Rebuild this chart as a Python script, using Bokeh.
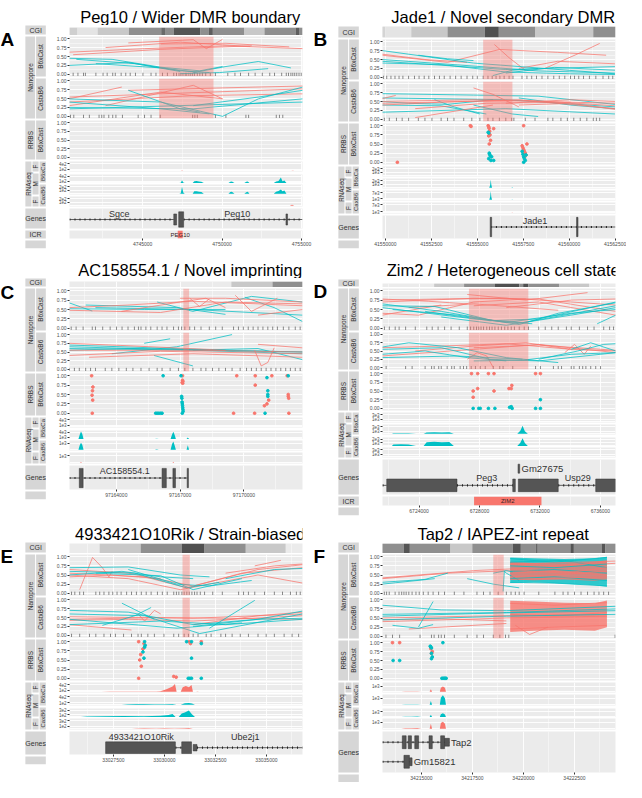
import numpy as np
from bokeh.plotting import figure
from bokeh.layouts import row, column
from bokeh.models import Range1d, FixedTicker, BasicTickFormatter, NumeralTickFormatter, BoxAnnotation
from bokeh.core.properties import value
from bokeh.embed import file_html
from bokeh.resources import INLINE

RED = "#F8766D"
TEAL = "#00BFC4"
COLORS = {"r": RED, "t": TEAL}
FONT = "Liberation Sans"
RNA_COLORS = [RED, TEAL, TEAL, RED]

# ======================= DATA (positions in kb) =======================
# ---------- Panel A ----------
A_TITLE = "Peg10 / Wider DMR boundary"
A_XLIM_KB = [4740.40, 4755.06]
A_XTICKS = [4745000, 4750000, 4755000]
A_XMINOR = [4742500, 4747500, 4752500]
A_CGI_START = [4740.40, 4740.89, 4742.18, 4744.14, 4746.17, 4746.41, 4746.96, 4748.62, 4749.17, 4749.42, 4751.38, 4752.67, 4754.63, 4754.88]
A_CGI_END = [4740.89, 4742.18, 4744.14, 4746.17, 4746.41, 4746.96, 4748.62, 4749.17, 4749.42, 4751.38, 4752.67, 4754.63, 4754.88, 4755.06]
A_CGI_SHADE = ["#CFCFCF", "#E4E4E4", "#C8C8C8", "#8F8F8F", "#6A6A6A", "#8F8F8F", "#555555", "#8F8F8F", "#5E5E5E", "#8F8F8F", "#C8C8C8", "#8F8F8F", "#5E5E5E", "#8F8F8F"]
A_DMR_KB = [4746.04, 4749.46]
A_N1_READS = [
    ("r", [4740.38, 4745.12, 4750.24, 4755.08], [0.62, 0.72, 0.80, 0.72]),
    ("r", [4740.63, 4746.15, 4751.87], [0.55, 0.70, 0.80]),
    ("r", [4744.10, 4748.19, 4749.01, 4750.03], [0.88, 0.97, 0.72, 0.98]),
    ("r", [4746.15, 4750.24, 4754.22], [0.85, 0.87, 0.77]),
    ("r", [4742.67, 4747.37, 4751.77], [0.75, 0.90, 0.78]),
    ("t", [4740.38, 4743.08, 4746.15, 4748.60, 4750.03], [0.45, 0.42, 0.20, 0.10, 0.22]),
    ("t", [4740.38, 4744.10, 4747.37, 4749.21], [0.25, 0.33, 0.10, 0.05]),
    ("t", [4740.83, 4744.51, 4747.37], [0.42, 0.30, 0.08]),
    ("t", [4748.19, 4750.24, 4752.28, 4754.33], [0.05, 0.22, 0.36, 0.18]),
    ("t", [4747.37, 4749.83, 4752.90], [0.02, 0.05, 0.16]),
    ("t", [4742.06, 4746.15, 4748.40], [0.30, 0.18, 0.06]),
]
A_N1_CPG = [4740.63, 4740.93, 4741.28, 4741.40, 4742.06, 4742.51, 4742.77, 4743.12, 4743.28, 4743.65, 4743.94, 4744.22, 4744.55, 4745.02, 4745.53, 4745.84, 4746.25, 4746.56, 4746.96, 4747.13, 4747.29, 4747.41, 4747.54, 4747.68, 4747.78, 4747.91, 4748.03, 4748.15, 4748.27, 4748.44, 4748.60, 4748.76, 4748.97, 4749.26, 4749.58, 4750.36, 4750.81, 4751.16, 4751.67, 4752.08, 4752.53, 4753.00, 4753.30, 4753.75, 4754.04, 4754.18, 4754.33, 4754.45, 4754.57, 4754.70, 4754.84, 4754.98]
A_N2_READS = [
    ("r", [4740.38, 4743.69], [0.49, 0.82]),
    ("r", [4740.38, 4746.15, 4750.03], [0.30, 0.68, 0.49]),
    ("r", [4742.67, 4748.19, 4750.03], [0.30, 0.87, 0.49]),
    ("r", [4740.38, 4747.37, 4755.08], [0.54, 0.65, 0.77]),
    ("r", [4744.10, 4750.24, 4755.08], [0.73, 0.80, 0.85]),
    ("r", [4740.38, 4748.19, 4755.08], [0.40, 0.58, 0.63]),
    ("t", [4740.38, 4746.15, 4750.03], [0.49, 0.40, 0.0]),
    ("t", [4740.38, 4748.19, 4755.08], [0.25, 0.21, 0.49]),
    ("t", [4740.38, 4746.15, 4749.21], [0.40, 0.21, 0.07]),
    ("t", [4744.10, 4747.37, 4748.60], [0.73, 0.21, 0.12]),
    ("t", [4750.03, 4752.28, 4755.08], [0.0, 0.49, 0.82]),
    ("t", [4748.19, 4752.28, 4755.08], [0.30, 0.54, 0.73]),
    ("t", [4740.38, 4755.08], [0.21, 0.40]),
]
A_N2_CPG = [4740.46, 4740.67, 4741.28, 4741.65, 4742.26, 4742.43, 4742.57, 4742.87, 4743.12, 4743.32, 4743.73, 4744.72, 4745.12, 4745.53, 4746.11, 4748.15, 4748.29, 4748.44, 4749.58, 4750.24, 4751.50, 4751.67, 4753.41, 4753.61, 4753.82]
A_RRBS_RED_X, A_RRBS_RED_Y, A_RRBS_TEAL_X, A_RRBS_TEAL_Y = [], [], [], []
A_RNA_X = [
    [4747.42, 4747.48, 4747.54, 4754.35, 4754.45, 4754.55],
    [4747.30, 4747.40, 4747.48, 4747.56, 4747.65, 4748.15, 4748.25, 4748.40, 4748.55, 4748.70, 4748.85, 4750.40, 4750.52, 4750.62, 4750.78, 4751.40, 4751.52, 4751.62, 4751.72, 4753.25, 4753.40, 4753.55, 4753.70, 4753.80, 4753.92, 4754.05],
    [4747.30, 4747.40, 4747.48, 4747.56, 4747.65, 4748.15, 4748.25, 4748.40, 4748.55, 4748.70, 4748.85, 4750.40, 4750.52, 4750.62, 4750.78, 4751.40, 4751.52, 4751.62, 4751.72, 4753.25, 4753.40, 4753.55, 4753.70, 4753.80, 4753.92, 4754.05],
    [4754.25, 4754.40, 4754.55],
]
A_RNA_Y = [
    [0, 30, 0, 0, 25, 0],
    [0, 10, 170, 30, 0, 0, 100, 120, 90, 70, 0, 0, 70, 80, 0, 0, 70, 85, 0, 0, 90, 120, 330, 100, 150, 0],
    [0, 15, 200, 40, 0, 0, 70, 75, 60, 50, 0, 0, 50, 55, 0, 0, 45, 60, 0, 0, 60, 80, 120, 70, 90, 0],
    [0, 30, 0],
]
A_RNA_TICKS = [[100, 400], [100, 400], [100, 200], [100, 200]]
A_RNA_LABELS = [["1e2", "4e2"], ["1e2", "4e2"], ["1e2", "2e2"], ["1e2", "2e2"]]
A_RNA_YMAX = [520, 520, 260, 260]
A_EXONS = [(4746.96, 4747.14, 1, "utr"), (4747.27, 4747.58, 1, "cds"), (4754.02, 4754.12, 1, "utr")]
A_INTRONS = [(4740.40, 4746.96, 1), (4747.58, 4755.06, 1)]
A_GENE_LABELS = [("Sgce", 4743.53, 1, "above"), ("Peg10", 4750.95, 1, "above")]
A_ICR = [(4747.21, 4747.52, "PEG10")]

# ---------- Panel B ----------
B_TITLE = "Jade1 / Novel secondary DMR"
B_XLIM_KB = [41549.84, 41562.52]
B_XTICKS = [41550000, 41552500, 41555000, 41557500, 41560000, 41562500]
B_XMINOR = [41551250, 41553750, 41556250, 41558750, 41561250]
B_CGI_START = [41549.82, 41550.00, 41551.41, 41553.38, 41555.41, 41556.17, 41558.14, 41561.31]
B_CGI_END = [41550.00, 41551.41, 41553.38, 41555.41, 41556.17, 41558.14, 41561.31, 41562.52]
B_CGI_SHADE = ["#D4D4D4", "#E4E4E4", "#C8C8C8", "#8F8F8F", "#505050", "#8F8F8F", "#C8C8C8", "#8F8F8F"]
B_DMR_KB = [41555.32, 41556.91]
B_N1_READS = [
    ("r", [41549.82, 41553.38, 41556.20, 41559.37, 41562.01], [0.62, 0.42, 0.78, 0.70, 0.62]),
    ("r", [41555.93, 41556.73, 41557.61], [0.92, 0.55, 0.20]),
    ("r", [41557.26, 41559.37, 41562.49], [0.25, 0.45, 0.38]),
    ("r", [41558.67, 41560.43, 41561.66], [0.25, 0.65, 0.95]),
    ("r", [41549.82, 41552.15, 41554.44], [0.65, 0.50, 0.42]),
    ("t", [41549.82, 41554.79, 41562.49], [0.75, 0.40, 0.10]),
    ("t", [41549.82, 41553.91, 41558.31, 41562.49], [0.50, 0.35, 0.18, 0.12]),
    ("t", [41549.82, 41556.55, 41562.49], [0.45, 0.22, 0.30]),
    ("t", [41551.79, 41553.38, 41554.79], [0.62, 0.52, 0.47]),
    ("t", [41555.85, 41556.90, 41558.31], [0.05, 0.20, 0.25]),
    ("t", [41556.55, 41559.19, 41562.49], [0.12, 0.28, 0.20]),
    ("t", [41549.82, 41553.03, 41556.55, 41560.07, 41562.49], [0.40, 0.36, 0.15, 0.10, 0.08]),
]
B_N1_CPG = [41549.89, 41550.07, 41550.30, 41550.52, 41550.74, 41550.95, 41551.26, 41551.58, 41551.83, 41552.11, 41552.36, 41552.67, 41552.94, 41553.20, 41553.52, 41553.82, 41554.12, 41554.44, 41554.75, 41555.00, 41555.32, 41555.58, 41555.81, 41556.02, 41556.23, 41556.46, 41556.73, 41556.94, 41557.43, 41557.70, 41557.96, 41558.22, 41558.52, 41558.84, 41559.16, 41559.46, 41559.76, 41560.07, 41560.29, 41560.52, 41560.78, 41561.10, 41561.45, 41561.84, 41562.15, 41562.37]
B_N2_READS = [
    ("t", [41549.82, 41554.79, 41558.31, 41562.49], [0.72, 0.68, 0.65, 0.42]),
    ("t", [41549.82, 41556.55, 41562.49], [0.60, 0.55, 0.35]),
    ("t", [41549.82, 41553.03, 41555.49], [0.40, 0.38, 0.15]),
    ("t", [41549.82, 41556.55, 41562.49], [0.20, 0.30, 0.15]),
    ("t", [41552.67, 41553.73, 41555.14], [0.55, 0.35, 0.15]),
    ("t", [41554.79, 41556.90, 41558.31], [0.40, 0.15, 0.08]),
    ("t", [41557.26, 41560.07, 41562.49], [0.60, 0.40, 0.30]),
    ("t", [41549.82, 41551.26, 41553.38, 41555.85], [0.50, 0.45, 0.42, 0.55]),
    ("r", [41549.82, 41554.79, 41562.49], [0.50, 0.55, 0.45]),
    ("r", [41549.82, 41553.91, 41558.31, 41562.49], [0.45, 0.50, 0.52, 0.38]),
    ("r", [41549.82, 41553.03, 41557.26, 41562.49], [0.40, 0.48, 0.55, 0.30]),
    ("r", [41551.62, 41555.49, 41560.07], [0.30, 0.45, 0.48]),
    ("r", [41554.79, 41555.85, 41557.26], [0.88, 0.70, 0.35]),
    ("r", [41551.62, 41555.85], [0.05, 0.40]),
    ("r", [41549.82, 41550.56], [0.58, 0.67]),
    ("r", [41556.55, 41560.07, 41562.49], [0.45, 0.55, 0.50]),
    ("r", [41557.26, 41560.07, 41562.49], [0.40, 0.45, 0.28]),
]
B_N2_CPG = [41549.94, 41550.21, 41550.60, 41550.91, 41551.26, 41551.79, 41552.15, 41552.53, 41553.03, 41553.38, 41553.73, 41554.26, 41554.70, 41555.14, 41555.58, 41555.85, 41556.20, 41556.55, 41556.87, 41556.99, 41557.61, 41558.14, 41558.84, 41559.11, 41559.55, 41559.90, 41560.25, 41560.60, 41560.96, 41561.31, 41561.48, 41561.66]
B_RRBS_RED_X = [41550.65, 41554.62, 41554.66, 41555.59, 41555.62, 41555.64, 41555.67, 41555.69, 41555.62, 41555.72, 41555.65, 41555.89, 41557.52, 41557.44, 41557.48, 41557.52, 41557.56, 41557.61, 41557.65, 41557.58, 41557.70]
B_RRBS_RED_Y = [0.0, 1.0, 0.98, 1.0, 0.97, 0.93, 0.85, 0.75, 0.72, 0.60, 0.50, 0.92, 1.0, 0.45, 0.40, 0.35, 0.30, 0.25, 0.20, 0.15, 0.50]
B_RRBS_TEAL_X = [41555.59, 41555.62, 41555.65, 41555.67, 41555.70, 41555.62, 41555.74, 41555.78, 41555.89, 41557.44, 41557.48, 41557.52, 41557.56, 41557.52, 41557.61, 41557.65]
B_RRBS_TEAL_Y = [0.82, 0.80, 0.25, 0.22, 0.18, 0.10, 0.05, 0.15, 0.05, 0.30, 0.22, 0.15, 0.10, 0.0, 0.05, 0.20]
B_RNA_X = [
    [41559.90, 41560.10, 41560.30],
    [41555.65, 41555.70, 41555.73, 41555.76, 41555.80, 41556.85, 41556.90, 41556.95],
    [41555.65, 41555.70, 41555.73, 41555.76, 41555.80, 41556.85, 41556.90, 41556.95],
    [41556.85, 41556.90, 41556.95],
]
B_RNA_Y = [
    [0, 60, 0],
    [0, 800, 2300, 900, 0, 0, 150, 0],
    [0, 3000, 8500, 3000, 0, 0, 400, 0],
    [0, 200, 0],
]
B_RNA_TICKS = [[1000, 2000], [1000, 2000], [1000, 7000], [1000, 7000]]
B_RNA_LABELS = [["1e3", "2e3"], ["1e3", "2e3"], ["1e3", "7e3"], ["1e3", "7e3"]]
B_RNA_YMAX = [2600, 2600, 9100, 9100]
B_EXONS = [(41555.70, 41555.78, 1, "cds"), (41560.40, 41560.48, 1, "cds")]
B_INTRONS = [(41555.74, 41562.52, 1)]
B_GENE_LABELS = [("Jade1", 41558.14, 1, "above")]
B_ICR = []

# ---------- Panel C ----------
C_TITLE = "AC158554.1 / Novel imprinting"
C_XLIM_KB = [97161.80, 97172.75]
C_XTICKS = [97164000, 97167000, 97170000]
C_XMINOR = [97162500, 97165500, 97168500, 97171500]
C_CGI_START = [97169.41, 97171.34]
C_CGI_END = [97171.34, 97172.75]
C_CGI_SHADE = ["#C8C8C8", "#8F8F8F"]
C_DMR_KB = [97167.15, 97167.42]
C_N1_READS = [
    ("t", [97161.77, 97162.87], [0.68, 0.46]),
    ("t", [97161.77, 97165.31, 97169.13], [0.52, 0.50, 0.50]),
    ("t", [97162.56, 97166.84, 97169.13], [0.62, 0.55, 0.37]),
    ("t", [97165.92, 97167.60, 97170.35, 97172.75], [0.70, 0.45, 0.85, 0.70]),
    ("t", [97170.05, 97171.42, 97172.75], [0.82, 0.55, 0.18]),
    ("t", [97163.02, 97167.60, 97172.75], [0.55, 0.50, 0.35]),
    ("r", [97161.77, 97166.08, 97169.13, 97172.75], [0.48, 0.42, 0.70, 0.65]),
    ("r", [97164.24, 97166.99, 97168.21, 97169.13], [0.45, 0.70, 0.80, 0.55]),
    ("r", [97161.77, 97164.55, 97167.60, 97172.75], [0.55, 0.62, 0.72, 0.60]),
    ("r", [97166.99, 97169.13, 97172.75], [0.80, 0.80, 0.70]),
    ("r", [97169.59, 97170.35, 97171.57], [0.88, 0.45, 0.80]),
    ("r", [97170.66, 97172.75], [0.35, 0.50]),
    ("r", [97167.45, 97167.91, 97168.37], [0.80, 0.58, 0.78]),
]
C_N1_CPG = [97161.88, 97162.11, 97162.44, 97162.87, 97163.02, 97163.36, 97163.71, 97164.01, 97164.27, 97164.55, 97164.85, 97165.04, 97165.16, 97165.39, 97165.62, 97165.92, 97166.15, 97166.38, 97166.69, 97166.92, 97167.07, 97167.22, 97167.45, 97167.68, 97167.98, 97168.37, 97168.67, 97168.98, 97169.51, 97169.74, 97169.97, 97170.20, 97170.43, 97170.66, 97170.89, 97171.12, 97171.35, 97171.57, 97171.85, 97172.11, 97172.41, 97172.64]
C_N2_READS = [
    ("t", [97161.77, 97166.08, 97172.75], [0.65, 0.58, 0.50]),
    ("t", [97161.77, 97167.60, 97172.75], [0.60, 0.55, 0.45]),
    ("t", [97161.77, 97164.55, 97169.13], [0.55, 0.60, 0.55]),
    ("t", [97163.79, 97166.84, 97169.44], [0.45, 0.65, 1.0]),
    ("t", [97165.31, 97166.53], [0.75, 0.88]),
    ("t", [97165.77, 97167.60], [0.40, 0.10]),
    ("t", [97161.77, 97169.13, 97172.75], [0.70, 0.55, 0.50]),
    ("t", [97167.60, 97170.66, 97172.75], [0.55, 0.60, 0.28]),
    ("r", [97161.77, 97166.08, 97172.75], [0.40, 0.52, 0.45]),
    ("r", [97162.72, 97167.60, 97172.75], [0.35, 0.45, 0.35]),
    ("r", [97161.77, 97164.55, 97169.13], [0.75, 0.68, 0.55]),
    ("r", [97161.77, 97167.60, 97172.75], [0.55, 0.55, 0.50]),
    ("r", [97170.50, 97170.81, 97171.12, 97171.42], [0.55, 0.10, 0.20, 0.62]),
    ("r", [97170.66, 97172.75], [0.72, 0.62]),
]
C_N2_CPG = [97161.80, 97162.03, 97162.26, 97162.56, 97162.79, 97163.02, 97163.48, 97163.79, 97164.12, 97164.47, 97164.78, 97165.16, 97165.54, 97165.92, 97166.15, 97166.53, 97166.92, 97167.22, 97167.60, 97167.98, 97168.21, 97168.52, 97168.82, 97169.13, 97169.44, 97169.82, 97170.12, 97170.35, 97170.58, 97170.81, 97171.04, 97171.27, 97171.50, 97171.73, 97171.96, 97172.18, 97172.41, 97172.64]
C_RRBS_RED_X = [97162.84, 97162.87, 97162.90, 97162.88, 97162.86, 97162.89, 97167.11, 97167.11, 97167.13, 97167.09, 97167.12, 97169.66, 97169.51, 97170.53, 97170.53, 97170.50, 97170.96, 97171.08, 97171.16, 97171.31, 97172.03, 97172.08, 97172.08, 97172.10, 97172.11]
C_RRBS_RED_Y = [1.0, 0.0, 0.70, 0.60, 0.48, 0.35, 1.0, 0.88, 0.85, 0.82, 0.80, 1.0, 0.0, 1.0, 0.75, 0.0, 0.20, 0.25, 0.35, 1.0, 1.0, 0.50, 0.45, 0.40, 0.0]
C_RRBS_TEAL_X = [97166.20, 97165.85, 97165.92, 97166.00, 97166.08, 97166.15, 97167.04, 97167.07, 97167.08, 97167.09, 97167.10, 97167.11, 97167.12, 97167.13, 97167.14, 97167.10, 97171.08, 97171.12, 97171.12, 97171.12, 97170.99, 97172.08]
C_RRBS_TEAL_Y = [1.0, 0.0, 0.0, 0.0, 0.0, 0.0, 1.0, 0.45, 0.40, 0.30, 0.25, 0.20, 0.15, 0.10, 0.05, 0.0, 0.95, 0.60, 0.50, 0.45, 0.0, 1.0]
C_RNA_X = [
    [97162.30, 97162.34, 97162.38, 97169.80, 97169.85, 97169.90],
    [97162.22, 97162.28, 97162.34, 97162.40, 97162.46, 97165.80, 97165.90, 97166.00, 97166.55, 97166.62, 97166.68, 97166.74, 97166.80, 97167.30, 97167.36, 97167.42],
    [97162.22, 97162.28, 97162.34, 97162.40, 97162.46, 97165.80, 97165.90, 97166.00, 97166.55, 97166.62, 97166.68, 97166.74, 97166.80, 97167.30, 97167.36, 97167.42],
    [97162.30, 97162.34, 97162.38, 97166.64, 97166.68, 97166.72],
]
C_RNA_Y = [
    [0, 100, 0, 0, 80, 0],
    [0, 2500, 4600, 3000, 0, 0, 150, 0, 0, 2800, 4400, 2500, 0, 0, 900, 0],
    [0, 700, 1100, 800, 0, 0, 80, 0, 0, 900, 1300, 700, 0, 0, 700, 0],
    [0, 150, 0, 0, 150, 0],
]
C_RNA_TICKS = [[1000, 4000], [1000, 4000], [1000], [1000]]
C_RNA_LABELS = [["1e3", "4e3"], ["1e3", "4e3"], ["1e3"], ["1e3"]]
C_RNA_YMAX = [5200, 5200, 1450, 1450]
C_EXONS = [(97162.26, 97162.44, 1, "cds"), (97166.15, 97166.35, 1, "cds"), (97166.66, 97166.78, 1, "cds"), (97167.33, 97167.39, 1, "cds")]
C_INTRONS = [(97161.80, 97167.36, 1)]
C_GENE_LABELS = [("AC158554.1", 97164.40, 1, "above")]
C_ICR = []

# ---------- Panel D ----------
D_TITLE = "Zim2 / Heterogeneous cell state"
D_XLIM_KB = [6721.58, 6737.00]
D_XTICKS = [6724000, 6728000, 6732000, 6736000]
D_XMINOR = [6722000, 6726000, 6730000, 6734000]
D_CGI_START = [6725.00, 6726.98, 6729.02, 6730.63, 6730.89, 6731.23, 6733.26]
D_CGI_END = [6726.98, 6729.02, 6730.63, 6730.89, 6731.23, 6733.26, 6735.25]
D_CGI_SHADE = ["#C8C8C8", "#8F8F8F", "#505050", "#8F8F8F", "#505050", "#8F8F8F", "#C8C8C8"]
D_DMR_KB = [6727.30, 6731.23]
D_N1_READS = [
    ("r", [6721.56, 6725.47, 6729.77, 6734.07, 6737.02], [0.75, 0.78, 0.80, 0.70, 0.62]),
    ("r", [6721.56, 6727.62, 6731.92, 6737.02], [0.70, 0.80, 0.78, 0.45]),
    ("r", [6721.56, 6723.97, 6727.62, 6731.06], [0.40, 0.35, 0.70, 0.78]),
    ("r", [6723.32, 6727.62, 6733.21], [0.55, 0.65, 0.48]),
    ("r", [6721.56, 6725.47], [0.35, 0.62]),
    ("r", [6727.19, 6731.06, 6735.15], [0.90, 0.75, 0.95]),
    ("r", [6727.62, 6731.92, 6737.02], [0.60, 0.70, 0.35]),
    ("r", [6721.56, 6724.61, 6727.19], [0.78, 0.72, 0.65]),
    ("r", [6729.77, 6734.07, 6737.02], [0.55, 0.75, 0.78]),
    ("t", [6721.56, 6725.47, 6729.77, 6734.07, 6737.02], [0.65, 0.45, 0.15, 0.40, 0.50]),
    ("t", [6721.56, 6727.62, 6730.85, 6737.02], [0.55, 0.25, 0.15, 0.60]),
    ("t", [6722.25, 6726.55, 6730.63, 6733.21, 6737.02], [0.50, 0.35, 0.10, 0.40, 0.68]),
    ("t", [6724.40, 6728.70, 6731.92, 6737.02], [0.45, 0.20, 0.25, 0.70]),
    ("t", [6725.47, 6729.77, 6734.07, 6737.02], [0.30, 0.08, 0.35, 0.55]),
    ("t", [6735.79, 6737.02], [0.12, 0.35]),
    ("t", [6721.56, 6725.05, 6728.91, 6731.49], [0.60, 0.58, 0.20, 0.12]),
]
D_N1_CPG = [6721.71, 6722.03, 6722.42, 6722.68, 6723.11, 6723.75, 6724.51, 6724.87, 6725.26, 6725.69, 6726.12, 6726.66, 6727.19, 6727.41, 6727.62, 6727.80, 6727.95, 6728.10, 6728.27, 6728.48, 6728.66, 6728.83, 6729.02, 6729.24, 6729.45, 6729.67, 6729.88, 6730.10, 6730.31, 6730.63, 6730.96, 6731.24, 6731.92, 6732.35, 6732.78, 6733.21, 6733.75, 6734.07, 6734.61, 6735.15, 6735.58, 6736.22, 6736.61, 6736.87]
D_N2_READS = [
    ("r", [6721.56, 6725.47, 6729.77, 6734.07, 6737.02], [0.60, 0.65, 0.72, 0.55, 0.50]),
    ("r", [6721.56, 6727.62, 6731.92, 6737.02], [0.35, 0.55, 0.70, 0.45]),
    ("r", [6723.75, 6727.62, 6731.06, 6734.07], [0.50, 0.65, 0.75, 0.55]),
    ("r", [6727.19, 6727.84, 6728.48, 6728.91], [0.25, 0.45, 0.35, 0.0]),
    ("r", [6727.62, 6731.92, 6737.02], [0.60, 0.68, 0.52]),
    ("r", [6733.64, 6734.29, 6734.93, 6735.36], [0.45, 0.70, 0.40, 0.65]),
    ("t", [6721.56, 6723.32, 6726.55, 6729.77, 6733.21], [0.62, 0.75, 0.60, 0.30, 0.15]),
    ("t", [6721.56, 6725.47, 6728.70, 6731.92, 6737.02], [0.55, 0.60, 0.25, 0.20, 0.45]),
    ("t", [6721.56, 6724.40, 6727.19, 6729.77], [0.40, 0.50, 0.30, 0.20]),
    ("t", [6727.62, 6730.85, 6734.07, 6737.02], [0.20, 0.22, 0.40, 0.45]),
    ("t", [6731.92, 6734.50, 6736.22, 6737.02], [0.25, 0.50, 0.70, 0.72]),
    ("t", [6721.56, 6726.55, 6730.85], [0.30, 0.35, 0.25]),
    ("t", [6734.07, 6735.36, 6737.02], [0.55, 0.75, 0.50]),
]
D_N2_CPG = [6721.82, 6723.11, 6723.54, 6724.40, 6724.83, 6725.00, 6725.30, 6725.47, 6725.86, 6726.16, 6726.33, 6726.72, 6726.94, 6727.15, 6727.45, 6727.73, 6728.05, 6728.38, 6728.91, 6729.34, 6729.56, 6730.20, 6731.71, 6732.03, 6732.89, 6733.21, 6733.43, 6734.07, 6734.25, 6734.61, 6734.83, 6735.04, 6735.36, 6735.69, 6736.01]
D_RRBS_RED_X = [6727.47, 6727.88, 6728.59, 6728.96, 6731.71, 6732.03, 6727.58, 6727.58, 6727.88, 6728.96, 6729.95, 6730.10, 6730.14]
D_RRBS_RED_Y = [1.0, 1.0, 1.0, 1.0, 1.0, 1.0, 0.50, 0.32, 0.57, 0.50, 0.57, 0.57, 0.66]
D_RRBS_TEAL_X = [6727.58, 6727.95, 6728.05, 6728.59, 6729.02, 6729.99, 6730.10, 6730.16, 6731.71, 6732.03, 6732.03]
D_RRBS_TEAL_Y = [0.0, 0.0, 0.0, 0.0, 0.0, 0.03, 0.05, 0.0, 0.0, 0.0, 0.25]
D_RNA_X = [
    [],
    [6722.20, 6722.30, 6722.80, 6723.30, 6723.80, 6724.30, 6724.50, 6725.00, 6725.50, 6726.00, 6726.30, 6730.50, 6730.70, 6730.85, 6731.00, 6731.20],
    [6722.20, 6722.30, 6722.80, 6723.30, 6723.80, 6724.30, 6724.50, 6725.00, 6725.50, 6726.00, 6726.30, 6730.50, 6730.70, 6730.85, 6731.00, 6731.20],
    [],
]
D_RNA_Y = [
    [],
    [0, 200, 250, 200, 0, 0, 550, 700, 600, 650, 0, 0, 1300, 3400, 1100, 0],
    [0, 400, 500, 400, 0, 0, 1100, 1300, 1100, 1200, 0, 0, 1000, 2400, 900, 0],
    [],
]
D_RNA_TICKS = [[1000, 3000], [1000, 3000], [1000, 2000], [1000, 3000]]
D_RNA_LABELS = [["1e3", "3e3"], ["1e3", "3e3"], ["1e3", "2e3"], ["1e3", "3e3"]]
D_RNA_YMAX = [3900, 3900, 2600, 3900]
D_EXONS = [(6721.86, 6726.51, 1, "cds"), (6730.20, 6730.37, 1, "cds"), (6730.57, 6733.21, 1, "cds"), (6735.69, 6737.00, 1, "cds"), (6730.55, 6730.66, 2, "utr")]
D_INTRONS = [(6721.58, 6721.86, 1), (6726.51, 6730.20, 1), (6733.21, 6735.69, 1)]
D_GENE_LABELS = [("Peg3", 6728.48, 1, "above"), ("Usp29", 6734.50, 1, "above"), ("Gm27675", 6730.78, 2, "right")]
D_ICR = [(6727.64, 6732.10, "ZIM2")]

# ---------- Panel E ----------
E_TITLE = "4933421O10Rik / Strain-biased"
E_XLIM_KB = [33025.35, 33036.77]
E_XTICKS = [33027500, 33030000, 33032500, 33035000]
E_XMINOR = [33026250, 33028750, 33031250, 33033750, 33036250]
E_CGI_START = [33026.83, 33028.84, 33030.85, 33031.97, 33033.99]
E_CGI_END = [33028.84, 33030.85, 33031.97, 33033.99, 33035.94]
E_CGI_SHADE = ["#C8C8C8", "#8F8F8F", "#505050", "#8F8F8F", "#C8C8C8"]
E_DMR_KB = [33030.89, 33031.25]
E_N1_READS = [
    ("r", [33025.85, 33026.48, 33026.96, 33027.28, 33027.44], [0.10, 0.98, 0.70, 0.45, 0.60]),
    ("r", [33025.34, 33028.23, 33031.41, 33034.59, 33036.77], [0.65, 0.55, 0.20, 0.65, 0.78]),
    ("r", [33025.34, 33029.03, 33031.10, 33033.80, 33036.77], [0.55, 0.45, 0.15, 0.55, 0.70]),
    ("r", [33025.34, 33028.23, 33030.78, 33034.59, 33036.77], [0.50, 0.40, 0.10, 0.50, 0.28]),
    ("r", [33033.00, 33035.39, 33036.77], [0.55, 0.75, 0.80]),
    ("r", [33025.34, 33027.44, 33029.82], [0.45, 0.50, 0.40]),
    ("r", [33034.43, 33035.71], [0.75, 0.90]),
    ("t", [33025.34, 33028.23, 33030.78, 33032.21], [0.70, 0.72, 0.50, 0.45]),
    ("t", [33025.34, 33027.92, 33029.82, 33031.41], [0.50, 0.60, 0.45, 0.40]),
    ("t", [33026.64, 33029.82, 33031.41, 33033.80], [0.55, 0.48, 0.10, 0.40]),
    ("t", [33028.23, 33030.62, 33032.21, 33034.28], [0.65, 0.25, 0.20, 0.35]),
    ("t", [33033.00, 33035.39, 33036.77], [0.40, 0.65, 0.68]),
    ("t", [33025.34, 33028.55, 33031.10, 33032.69], [0.60, 0.55, 0.15, 0.30]),
]
E_N1_CPG = [33025.45, 33025.61, 33025.85, 33026.04, 33026.64, 33026.83, 33027.04, 33027.28, 33027.47, 33027.68, 33027.88, 33028.15, 33028.39, 33028.63, 33028.87, 33029.11, 33029.35, 33029.66, 33029.90, 33030.14, 33030.46, 33030.59, 33030.71, 33030.86, 33030.97, 33031.10, 33031.22, 33031.35, 33031.48, 33031.60, 33031.76, 33031.97, 33032.37, 33032.84, 33033.64, 33033.88, 33034.12, 33034.43, 33034.91, 33035.39, 33035.79, 33036.18, 33036.47, 33036.66]
E_N2_READS = [
    ("r", [33025.34, 33028.23, 33031.41, 33034.59, 33036.77], [0.52, 0.50, 0.48, 0.55, 0.60]),
    ("r", [33025.34, 33029.82, 33033.00, 33036.77], [0.45, 0.50, 0.48, 0.45]),
    ("r", [33025.34, 33028.23, 33031.41, 33036.77], [0.42, 0.45, 0.40, 0.55]),
    ("r", [33028.71, 33029.03, 33029.51, 33029.82], [0.60, 0.40, 0.70, 0.60]),
    ("r", [33025.34, 33028.39], [0.30, 0.15]),
    ("r", [33031.41, 33034.59, 33036.77], [0.30, 0.55, 0.65]),
    ("t", [33025.34, 33028.23, 33031.41, 33034.59, 33036.77], [0.70, 0.65, 0.30, 0.45, 0.68]),
    ("t", [33025.34, 33029.03, 33031.73, 33036.77], [0.60, 0.55, 0.05, 0.60]),
    ("t", [33026.96, 33028.55, 33029.35], [0.28, 0.55, 0.78]),
    ("t", [33027.92, 33029.51], [0.90, 0.45]),
    ("t", [33025.34, 33029.82, 33033.00, 33036.77], [0.30, 0.40, 0.30, 0.45]),
    ("t", [33032.21, 33034.43], [0.20, 0.98]),
    ("t", [33025.34, 33030.62, 33033.80], [0.45, 0.20, 0.35]),
    ("t", [33031.41, 33034.59, 33036.77], [0.25, 0.45, 0.48]),
]
E_N2_CPG = [33025.45, 33025.85, 33026.33, 33026.64, 33027.04, 33027.36, 33027.60, 33028.00, 33028.39, 33028.71, 33028.87, 33029.19, 33029.51, 33029.98, 33030.46, 33030.70, 33030.97, 33031.18, 33031.41, 33031.65, 33032.05, 33032.29, 33032.77, 33033.00, 33033.32, 33033.72, 33034.12, 33034.59, 33034.99, 33035.39, 33035.87, 33036.26, 33036.58]
E_RRBS_RED_X = [33028.74, 33029.00, 33028.95, 33028.84, 33028.79, 33028.87, 33028.74, 33030.46, 33030.58, 33031.22, 33031.28, 33031.81]
E_RRBS_RED_Y = [1.0, 0.95, 0.80, 0.65, 0.50, 0.33, 0.0, 0.05, 0.03, 1.0, 0.95, 1.0]
E_RRBS_TEAL_X = [33029.03, 33029.06, 33029.03, 33028.95, 33031.09, 33031.33, 33031.33, 33031.17, 33031.25, 33031.33, 33031.81, 33031.81, 33029.00]
E_RRBS_TEAL_Y = [1.0, 0.90, 0.85, 0.72, 1.0, 1.0, 0.55, 0.0, 0.0, 0.0, 0.95, 0.0, 0.55]
E_RNA_X = [
    [33026.90, 33027.30, 33028.50, 33029.60, 33029.80, 33030.10, 33030.40, 33030.52, 33030.60, 33030.80, 33030.90, 33031.05, 33031.20, 33031.33, 33031.40, 33031.55, 33031.62, 33031.70],
    [33027.90, 33028.20, 33028.60, 33029.00, 33029.50, 33030.00, 33030.40, 33030.60, 33030.80, 33031.00, 33031.20, 33031.35, 33031.50],
    [33025.90, 33026.20, 33027.00, 33028.00, 33029.00, 33029.80, 33030.20, 33030.40, 33030.55, 33030.70, 33030.85, 33031.00, 33031.20, 33031.35, 33031.50],
    [33028.40, 33028.60, 33029.00, 33029.60, 33030.00, 33030.50, 33031.00, 33031.20, 33031.40],
]
E_RNA_Y = [
    [0, 20, 25, 20, 40, 150, 300, 440, 0, 0, 250, 320, 260, 380, 0, 0, 20, 0],
    [0, 30, 40, 35, 25, 30, 35, 0, 0, 80, 90, 70, 0],
    [0, 15, 25, 40, 30, 50, 90, 130, 0, 0, 160, 200, 300, 120, 0],
    [0, 15, 20, 15, 20, 15, 20, 25, 0],
]
E_RNA_TICKS = [[100, 400], [100, 400], [100, 300], [100, 300]]
E_RNA_LABELS = [["1e2", "4e2"], ["1e2", "4e2"], ["1e2", "3e2"], ["1e2", "3e2"]]
E_RNA_YMAX = [520, 520, 390, 390]
E_EXONS = [(33027.12, 33030.54, 1, "cds"), (33030.85, 33031.33, 1, "cds"), (33031.41, 33031.60, 1, "utr")]
E_INTRONS = [(33030.54, 33030.85, 1), (33031.60, 33036.77, 1)]
E_GENE_LABELS = [("4933421O10Rik", 33028.87, 1, "above"), ("Ube2j1", 33033.96, 1, "above")]
E_ICR = []

# ---------- Panel F ----------
F_TITLE = "Tap2 / IAPEZ-int repeat"
F_XLIM_KB = [34213.09, 34224.51]
F_XTICKS = [34215000, 34217500, 34220000, 34222500]
F_XMINOR = [34213750, 34216250, 34218750, 34221250, 34223750]
F_CGI_START = [34213.07, 34214.14, 34214.43, 34216.42, 34217.49, 34219.48, 34219.87, 34220.59, 34220.70, 34222.30, 34222.47, 34223.83, 34224.02]
F_CGI_END = [34214.14, 34214.43, 34216.42, 34217.49, 34219.48, 34219.87, 34220.59, 34220.70, 34222.30, 34222.47, 34223.83, 34224.02, 34224.52]
F_CGI_SHADE = ["#8F8F8F", "#555555", "#8F8F8F", "#C8C8C8", "#8F8F8F", "#555555", "#8F8F8F", "#666666", "#8F8F8F", "#555555", "#8F8F8F", "#555555", "#8F8F8F"]
F_DMR_KB = [34218.52, 34219.03]
F_N1_BANDS = [
    ("t", [34219.35, 34220.50, 34222.00, 34223.50, 34224.09], [0.28, 0.30, 0.26, 0.22, 0.18], [0.98, 0.96, 0.94, 0.96, 1.00]),
    ("r", [34219.35, 34220.50, 34222.00, 34223.50, 34224.09], [0.38, 0.36, 0.38, 0.34, 0.38], [0.86, 0.83, 0.82, 0.86, 0.90]),
]
F_N1_READS = [
    ("r", [34213.07, 34217.56, 34220.75, 34224.52], [0.42, 0.62, 0.70, 0.82]),
    ("r", [34213.07, 34216.29, 34219.35], [0.40, 0.55, 0.62]),
    ("t", [34213.07, 34215.17, 34216.29], [0.30, 0.38, 0.55]),
    ("t", [34213.07, 34215.65], [0.25, 0.40]),
    ("t", [34217.24, 34218.52, 34219.79], [0.40, 0.25, 0.15]),
    ("t", [34219.00, 34219.06, 34219.16, 34219.79], [0.05, 0.60, 0.55, 0.35]),
    ("t", [34218.52, 34219.16, 34219.47], [0.55, 0.62, 0.58]),
    ("t", [34219.35, 34221.50, 34224.09], [0.95, 0.85, 0.98]),
    ("t", [34219.35, 34221.50, 34224.09], [0.75, 0.70, 0.80]),
    ("t", [34219.35, 34221.50, 34224.09], [0.60, 0.65, 0.55]),
    ("t", [34219.35, 34221.50, 34224.09], [0.40, 0.45, 0.35]),
    ("t", [34219.35, 34221.50, 34224.09], [0.30, 0.28, 0.20]),
    ("t", [34219.35, 34222.00, 34224.09], [0.85, 0.90, 0.70]),
    ("r", [34219.35, 34221.50, 34224.09], [0.80, 0.75, 0.85]),
    ("r", [34219.35, 34221.50, 34224.09], [0.55, 0.60, 0.50]),
    ("r", [34219.35, 34221.50, 34224.09], [0.45, 0.50, 0.60]),
    ("r", [34219.35, 34222.00, 34224.09], [0.65, 0.55, 0.70]),
    ("r", [34219.35, 34222.00, 34224.09], [0.38, 0.42, 0.45]),
    ("r", [34219.35, 34224.52], [0.80, 0.88]),
]
F_N1_CPG = [34213.18, 34213.29, 34213.42, 34213.71, 34213.90, 34214.03, 34214.14, 34214.25, 34214.38, 34214.54, 34214.73, 34214.89, 34215.09, 34215.33, 34215.57, 34215.84, 34216.13, 34216.61, 34217.08, 34217.72, 34218.04, 34218.36, 34218.76, 34219.16, 34219.39, 34219.60, 34219.79, 34220.03, 34220.75, 34221.54, 34221.94, 34222.18, 34222.50, 34222.82, 34223.14, 34223.46, 34223.70, 34223.93, 34224.17]
F_N2_BANDS = [
    ("r", [34219.35, 34220.50, 34222.00, 34223.50, 34224.09], [0.12, 0.15, 0.18, 0.15, 0.25], [0.97, 0.95, 0.92, 0.90, 0.98]),
]
F_N2_READS = [
    ("r", [34219.35, 34221.50, 34224.09], [0.90, 0.85, 0.92]),
    ("r", [34219.35, 34221.50, 34224.09], [0.20, 0.25, 0.30]),
    ("r", [34219.35, 34221.50, 34224.09], [0.60, 0.55, 0.65]),
    ("r", [34219.60, 34220.30, 34221.20], [0.30, 0.05, 0.25]),
    ("r", [34213.07, 34219.16, 34224.09], [0.40, 0.50, 0.55]),
    ("r", [34213.07, 34217.56, 34224.09], [0.50, 0.55, 0.60]),
    ("r", [34214.38, 34219.16], [0.20, 0.35]),
    ("r", [34213.07, 34215.97, 34219.16], [0.45, 0.48, 0.42]),
    ("t", [34213.07, 34215.97, 34219.16, 34224.52], [0.85, 0.72, 0.70, 0.82]),
    ("t", [34213.07, 34217.56, 34224.52], [0.55, 0.62, 0.70]),
    ("t", [34213.58, 34214.85, 34215.57], [0.30, 0.22, 0.32]),
    ("t", [34214.85, 34215.57], [0.25, 0.95]),
    ("t", [34213.07, 34219.16, 34224.52], [0.45, 0.55, 0.60]),
    ("t", [34213.07, 34219.16, 34224.52], [0.60, 0.65, 0.75]),
]
F_N2_CPG = [34213.26, 34213.58, 34213.93, 34214.93, 34215.49, 34215.62, 34215.84, 34215.97, 34216.13, 34216.61, 34217.24, 34217.72, 34218.04, 34218.52, 34218.84, 34219.12, 34219.28, 34224.49]
F_RRBS_RED_X = [34213.58, 34213.93, 34215.46, 34215.53, 34215.49]
F_RRBS_RED_Y = [1.0, 1.0, 0.83, 0.75, 0.70]
F_RRBS_TEAL_X = [34213.61, 34213.93, 34215.43, 34215.46, 34215.49, 34215.49, 34215.53, 34215.49, 34216.05, 34216.00, 34216.05, 34216.10, 34216.13, 34216.18, 34216.21]
F_RRBS_TEAL_Y = [0.5, 0.5, 0.90, 0.88, 0.85, 0.70, 0.60, 0.55, 1.0, 0.0, 0.0, 0.0, 0.0, 0.0, 0.0]
F_RNA_XPOS = [34214.00, 34214.20, 34214.50, 34214.80, 34215.00, 34215.40, 34215.46, 34215.52, 34215.90, 34215.95, 34216.05, 34216.15, 34216.20]
F_RNA_X = [F_RNA_XPOS, F_RNA_XPOS, F_RNA_XPOS, F_RNA_XPOS]
F_RNA_Y = [
    [0, 80, 60, 80, 0, 0, 450, 0, 0, 700, 900, 700, 0],
    [0, 60, 40, 50, 0, 0, 600, 0, 0, 1100, 1500, 1000, 0],
    [0, 50, 40, 60, 0, 0, 400, 0, 0, 500, 700, 450, 0],
    [0, 100, 80, 110, 0, 0, 800, 0, 0, 900, 1100, 800, 0],
]
F_RNA_TICKS = [[1000], [1000], [1000], [1000]]
F_RNA_LABELS = [["1e3"], ["1e3"], ["1e3"], ["1e3"]]
F_RNA_YMAX = [1600, 1600, 1600, 1600]
F_EXONS = [(34214.06, 34214.25, 2, "cds"), (34214.35, 34214.51, 2, "cds"), (34214.67, 34214.86, 2, "cds"), (34215.37, 34215.53, 2, "cds"), (34215.94, 34216.13, 2, "cds"), (34216.13, 34216.37, 2, "utr"), (34214.14, 34214.41, 1, "cds"), (34214.41, 34214.54, 1, "utr")]
F_INTRONS = [(34213.09, 34216.37, 2), (34213.09, 34214.54, 1)]
F_GENE_LABELS = [("Tap2", 34216.45, 2, "right"), ("Gm15821", 34214.62, 1, "right")]
F_ICR = []

# ======================= LAYOUT =======================
SX = 313.0 / 321.0
PW = 313
SW = 46
TW = PW - SW
BL = 23
BR = 11
HALF_GAP = 1
ROW_REF = [258, 268, 272]
ROW_PX = [253, 263, 266]


def kb(a):
    return np.asarray(a, dtype=float) * 1000.0


def P(letter, pre, row_i, heights, title_y, letter_y, gylim, cds, utr, dy, n1band=None, n2band=None):
    g = globals()
    return dict(letter=letter, title=g[pre + "TITLE"], xlim=g[pre + "XLIM_KB"], xticks=g[pre + "XTICKS"],
                xminor=g[pre + "XMINOR"],
                cgi=(g[pre + "CGI_START"], g[pre + "CGI_END"], g[pre + "CGI_SHADE"]), dmr=g[pre + "DMR_KB"],
                n1=g[pre + "N1_READS"], n1cpg=g[pre + "N1_CPG"], n1band=n1band or [],
                n2=g[pre + "N2_READS"], n2cpg=g[pre + "N2_CPG"], n2band=n2band or [],
                rrbs=(g[pre + "RRBS_RED_X"], g[pre + "RRBS_RED_Y"], g[pre + "RRBS_TEAL_X"], g[pre + "RRBS_TEAL_Y"]),
                rna_x=g[pre + "RNA_X"], rna_y=g[pre + "RNA_Y"], rna_ticks=g[pre + "RNA_TICKS"],
                rna_labels=g[pre + "RNA_LABELS"], rna_ymax=g[pre + "RNA_YMAX"],
                exons=g[pre + "EXONS"], introns=g[pre + "INTRONS"], glabels=g[pre + "GENE_LABELS"],
                icr=g[pre + "ICR"], row=row_i, heights=heights, title_y=title_y, letter_y=letter_y,
                gylim=gylim, half={"cds": cds, "utr": utr}, dy=dy)


PANELS = [
    P("A", "A_", 0, [26, 10, 43, 42, 42, 12, 12, 12, 12, 23, 9, 15], 17, 40, (0.415, 1.715), 0.5, 0.36, 0.36),
    P("B", "B_", 0, [27, 12, 43, 42, 44, 12, 13, 12, 13, 25, 15], 17, 40, (0.285, 1.715), 0.6, 0.6, 0.36),
    P("C", "C_", 1, [25, 10, 44, 42, 45, 12, 12, 12, 13, 25, 28], 17, 40, (0.285, 1.78), 0.6, 0.4, 0.42),
    P("D", "D_", 1, [26, 9, 44, 40, 42, 12, 12, 12, 12, 38, 10, 11], 17, 39, (0.45, 2.55), 0.38, 0.27, 0.45),
    P("E", "E_", 2, [27, 11, 44, 43, 44, 12, 13, 12, 13, 24, 29], 17.5, 41, (0.58, 2.0), 0.36, 0.2, 0.675),
    P("F", "F_", 2, [27, 11, 44, 44, 43, 12, 13, 12, 13, 43, 10], 17.5, 41, (0.45, 2.55), 0.33, 0.2, 0.0,
      n1band=F_N1_BANDS, n2band=F_N2_BANDS),
]


def style_axis(ax, size="5px"):
    ax.major_label_text_font = FONT
    ax.major_label_text_font_size = size
    ax.major_label_text_color = "#4D4D4D"
    ax.major_tick_line_color = "#333333"
    ax.major_tick_out = 2
    ax.major_tick_in = 0
    ax.minor_tick_out = 0
    ax.minor_tick_in = 0
    ax.axis_line_color = None
    ax.major_label_standoff = 1


def make_track(Pn, kind, xr, h, top, bot):
    if kind in ("cgi", "icr"):
        ylim = (0, 1)
    elif kind in ("n1", "n2", "rrbs"):
        ylim = (-0.06, 1.06)
    elif kind.startswith("rna"):
        ym = Pn["rna_ymax"][int(kind[3]) - 1]
        ylim = (-0.07 * ym, ym)
    else:
        ylim = Pn["gylim"]
    p = figure(width=TW, height=h, x_range=xr, y_range=Range1d(*ylim), output_backend="svg",
               toolbar_location=None, min_border_left=BL, min_border_right=BR,
               min_border_top=top, min_border_bottom=bot)
    p.background_fill_color = "#EBEBEB"
    p.border_fill_color = "white"
    p.outline_line_color = None
    xt = FixedTicker(ticks=Pn["xticks"], minor_ticks=Pn["xminor"])
    p.xaxis.ticker = xt
    p.xgrid.ticker = xt
    p.xaxis.formatter = BasicTickFormatter(use_scientific=False)
    style_axis(p.xaxis[0])
    style_axis(p.yaxis[0], "4.5px" if kind.startswith("rna") else "5px")
    p.xaxis.visible = kind == Pn["last_kind"]
    p.xgrid.grid_line_color = "white"
    p.xgrid.grid_line_width = 0.9
    p.xgrid.minor_grid_line_color = "white"
    p.xgrid.minor_grid_line_width = 0.45
    p.ygrid.grid_line_color = "white"
    p.ygrid.grid_line_width = 0.9
    p.ygrid.minor_grid_line_color = "white"
    p.ygrid.minor_grid_line_width = 0.45

    if kind in ("n1", "n2", "rrbs"):
        yt = FixedTicker(ticks=[0, 0.25, 0.5, 0.75, 1.0], minor_ticks=[0.125, 0.375, 0.625, 0.875])
        p.yaxis.ticker = yt
        p.ygrid.ticker = yt
        p.yaxis.formatter = NumeralTickFormatter(format="0.00")
    elif kind.startswith("rna"):
        i = int(kind[3]) - 1
        ticks = Pn["rna_ticks"][i]
        yt = FixedTicker(ticks=ticks, minor_ticks=[0])
        p.yaxis.ticker = yt
        p.ygrid.ticker = yt
        p.ygrid.minor_grid_line_width = 0.9
        p.yaxis.major_label_overrides = {t: l for t, l in zip(ticks, Pn["rna_labels"][i])}
    else:
        p.yaxis.visible = False
        p.ygrid.visible = False

    if kind == "cgi":
        s, e, c = Pn["cgi"]
        p.quad(left=kb(s), right=kb(e), bottom=0, top=1, fill_color=c, line_color=None)
    elif kind in ("n1", "n2"):
        cpg = kb(Pn[kind + "cpg"])
        p.segment(x0=cpg, y0=-0.045, x1=cpg, y1=0.045, line_color="black", line_alpha=0.5, line_width=0.9)
        for c, bx, lo, hi in Pn[kind + "band"]:
            p.varea(x=kb(bx), y1=lo, y2=hi, fill_color=COLORS[c], fill_alpha=0.8)
        reads = Pn[kind]
        p.multi_line(xs=[kb(r[1]) for r in reads], ys=[list(r[2]) for r in reads],
                     line_color=[COLORS[r[0]] for r in reads], line_alpha=0.75, line_width=1.0,
                     line_join="round")
        p.add_layout(BoxAnnotation(left=Pn["dmr"][0] * 1000, right=Pn["dmr"][1] * 1000,
                                   fill_color=RED, fill_alpha=0.4, line_color=None))
    elif kind == "rrbs":
        rx, ry, tx, ty = Pn["rrbs"]
        if rx:
            p.scatter(kb(rx), ry, size=2.7, color=RED)
        if tx:
            p.scatter(kb(tx), ty, size=2.7, color=TEAL)
    elif kind.startswith("rna"):
        i = int(kind[3]) - 1
        xs, ys = Pn["rna_x"][i], Pn["rna_y"][i]
        if xs:
            p.varea(x=kb(xs), y1=0, y2=ys, fill_color=RNA_COLORS[i])
    elif kind == "genes":
        hf = Pn["half"]
        ins = Pn["introns"]
        if ins:
            x0 = kb([a[0] for a in ins]); x1 = kb([a[1] for a in ins]); yy = [a[2] for a in ins]
            p.segment(x0=x0, y0=yy, x1=x1, y1=yy, line_color="#222222", line_width=0.7)
            p.segment(x0=x0, y0=yy, x1=x1, y1=yy, line_color="#222222", line_width=2.2, line_dash="1 4")
        ex = Pn["exons"]
        p.quad(left=kb([a[0] for a in ex]), right=kb([a[1] for a in ex]),
               bottom=[a[2] - hf[a[3]] for a in ex], top=[a[2] + hf[a[3]] for a in ex],
               fill_color="#555555", line_color="#333333", line_width=0.5)
        for txt, lx, rw, pos in Pn["glabels"]:
            if pos == "above":
                p.text(x=[lx * 1000], y=[rw + Pn["dy"]], text=[txt], text_font=value(FONT),
                       text_font_size="9px", text_align="center", text_baseline="middle", text_color="#333333")
            else:
                p.text(x=[lx * 1000], y=[rw], text=[txt], text_font=value(FONT),
                       text_font_size="9.5px", text_align="left", text_baseline="middle", text_color="#333333")
    elif kind == "icr":
        for s, e, lab in Pn["icr"]:
            p.quad(left=[s * 1000], right=[e * 1000], bottom=0, top=1, fill_color=RED, line_color=None)
            p.text(x=[(s + e) / 2 * 1000], y=[0.5], text=[lab], text_font=value(FONT), text_font_size="6px",
                   text_align="center", text_baseline="middle", text_color="#3A2424")
    return p


def header_fig(Pn, h, f):
    p = figure(width=TW, height=h, x_range=Range1d(0, TW), y_range=Range1d(h, 0), x_axis_type=None,
               y_axis_type=None, output_backend="svg", toolbar_location=None, min_border=0)
    p.outline_line_color = None
    p.background_fill_color = "white"
    p.border_fill_color = "white"
    p.text(x=[189 * SX - SW], y=[Pn["title_y"] * f], text=[Pn["title"]], text_font=value(FONT),
           text_font_size="16.5px", text_align="center", text_baseline="alphabetic", text_color="black")
    return p


FULL = (25, 47)
OUT = (25, 36)
INN = (36, 47)
R1 = (25, 32.3)
R2 = (32.3, 39.6)
R3 = (39.6, 47)


def strip_fig(Pn, frames, total, f, kinds):
    p = figure(width=SW, height=total, x_range=Range1d(0, SW), y_range=Range1d(total, 0), x_axis_type=None,
               y_axis_type=None, output_backend="svg", toolbar_location=None, min_border=0)
    p.outline_line_color = None
    p.background_fill_color = "white"
    p.border_fill_color = "white"
    boxes = []

    def add(xc, y0, y1, text, rot, size):
        boxes.append((xc[0] * SX + 0.5, xc[1] * SX - 0.5, y0, y1, text, rot, size))

    add(FULL, *frames["cgi"], "CGI", 0, "7px")
    add(OUT, frames["n1"][0], frames["n2"][1], "Nanopore", 1, "6.5px")
    add(INN, *frames["n1"], "B6xCast", 1, "6.5px")
    add(INN, *frames["n2"], "CastxB6", 1, "6.5px")
    add(OUT, *frames["rrbs"], "RRBS", 1, "6.5px")
    add(INN, *frames["rrbs"], "B6xCast", 1, "6.5px")
    add(R1, frames["rna1"][0], frames["rna4"][1], "RNAseq", 1, "6.3px")
    add(R2, *frames["rna1"], "F", 1, "6.3px")
    add(R2, frames["rna2"][0], frames["rna3"][1], "M", 1, "6.3px")
    add(R2, *frames["rna4"], "F", 1, "6.3px")
    add(R3, frames["rna1"][0], frames["rna2"][1], "B6xCa", 1, "6px")
    add(R3, frames["rna3"][0], frames["rna4"][1], "CaxB6", 1, "6px")
    add(FULL, *frames["genes"], "Genes", 0, "7px")
    if "icr" in frames:
        add(FULL, *frames["icr"], "ICR", 0, "7px")
    last = frames[kinds[-1]][1]
    add(FULL, last + 2 * HALF_GAP, last + 2 * HALF_GAP + 8 * f, "", 0, "7px")
    p.quad(left=[b[0] for b in boxes], right=[b[1] for b in boxes], top=[b[2] for b in boxes],
           bottom=[b[3] for b in boxes], fill_color="#D6D6D6", line_color=None)
    for size in sorted(set(b[6] for b in boxes)):
        sel = [b for b in boxes if b[6] == size and b[4]]
        p.text(x=[(b[0] + b[1]) / 2 for b in sel], y=[(b[2] + b[3]) / 2 for b in sel], text=[b[4] for b in sel],
               angle=[np.pi / 2 if b[5] else 0 for b in sel], text_font=value(FONT), text_font_size=size,
               text_align="center", text_baseline="middle", text_color="#333333")
    p.text(x=[0], y=[Pn["letter_y"] * f], text=[Pn["letter"]], text_font=value(FONT), text_font_style="bold",
           text_font_size="19px", text_align="left", text_baseline="alphabetic", text_color="black")
    return p


def build_panel(Pn):
    r = Pn["row"]
    f = ROW_PX[r] / ROW_REF[r]
    cum = np.round(np.cumsum([0] + Pn["heights"]) * f).astype(int)
    total = int(cum[-1])
    kinds = ["cgi", "n1", "n2", "rrbs", "rna1", "rna2", "rna3", "rna4", "genes"] + (["icr"] if Pn["icr"] else [])
    Pn["last_kind"] = kinds[-1]
    xr = Range1d(Pn["xlim"][0] * 1000, Pn["xlim"][1] * 1000)
    figs = [header_fig(Pn, int(cum[1]), f)]
    bottom_h = int(cum[-1] - cum[-2])
    frames = {}
    n = len(kinds)
    for k, kind in enumerate(kinds):
        y0 = int(cum[k + 1])
        y1 = int(cum[k + 2])
        last = k == n - 1
        top = 0 if k == 0 else HALF_GAP
        bot = bottom_h if last else HALF_GAP
        h = y1 - y0 + (bottom_h if last else 0)
        frames[kind] = (y0 + top, y1 - (0 if last else HALF_GAP))
        figs.append(make_track(Pn, kind, xr, h, top, bot))
    strip = strip_fig(Pn, frames, total, f, kinds)
    return row(strip, column(*figs))


panels = [build_panel(Pn) for Pn in PANELS]
layout = column(row(panels[0], panels[1]), row(panels[2], panels[3]), row(panels[4], panels[5]))
open("out.html", "w").write(file_html(layout, INLINE))
